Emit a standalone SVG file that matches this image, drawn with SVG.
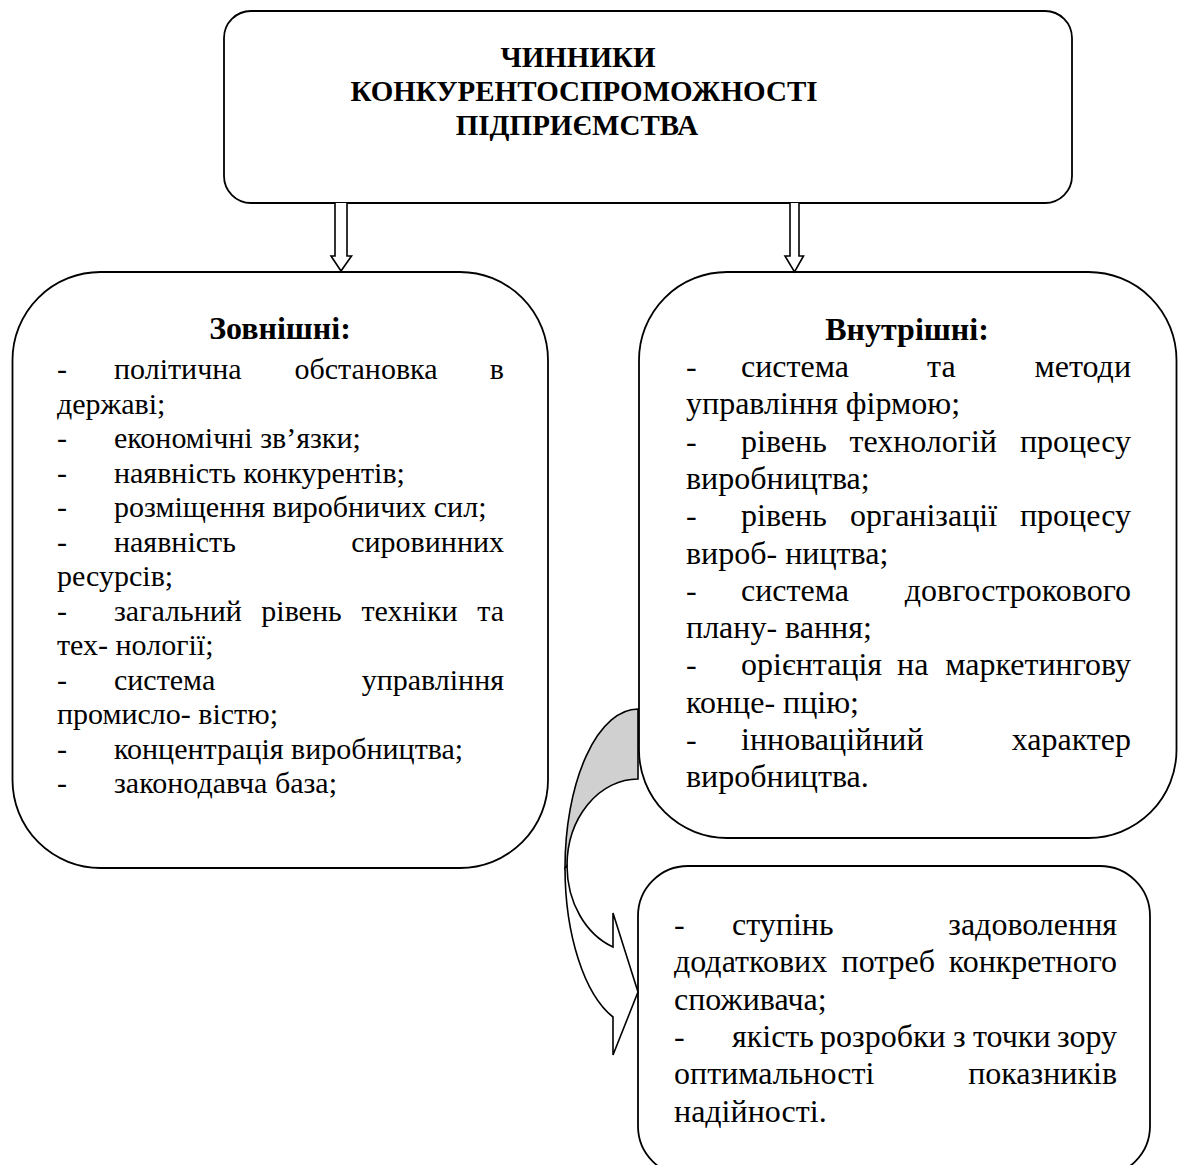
<svg xmlns="http://www.w3.org/2000/svg" width="1178" height="1165" viewBox="0 0 1178 1165">
  <style>
    .box { fill: #ffffff; stroke: #000000; stroke-width: 1.8; }
    .arrow { fill: #ffffff; stroke: #000000; stroke-width: 1.6; stroke-linejoin: miter; }
    .shade { fill: #d0d0d0; stroke: #000000; stroke-width: 1.6; }
    text { font-family: "Liberation Serif", "Times New Roman", serif; fill: #000000; }
    .title { font-size: 29px; font-weight: bold; text-anchor: middle; }
    .head { font-size: 32px; font-weight: bold; text-anchor: middle; }
    .l { font-size: 30px; }
    .r { font-size: 32px; }
    .e { text-anchor: end; }
  </style>
  <rect width="1178" height="1165" fill="#ffffff"/>

  <!-- title node -->
  <g id="node-title">
    <rect class="box" x="224" y="11" width="848" height="192" rx="27" ry="27"/>
    <text class="title" x="578" y="67">ЧИННИКИ</text>
    <text class="title" x="584" y="101">КОНКУРЕНТОСПРОМОЖНОСТІ</text>
    <text class="title" x="577" y="135">ПІДПРИЄМСТВА</text>
  </g>

  <!-- external factors -->
  <g id="node-external">
    <rect class="box" x="12.5" y="272" width="535.5" height="596" rx="88" ry="88"/>
    <text class="head" x="280" y="339">Зовнішні:</text>
    <g class="l">
      <text x="57" y="379">-</text><text x="114" y="379">політична</text><text x="294.5" y="379">обстановка</text><text class="e" x="504" y="379">в</text>
      <text x="57" y="413.5">державі;</text>
      <text x="57" y="448">-</text><text x="114" y="448">економічні зв’язки;</text>
      <text x="57" y="482.5">-</text><text x="114" y="482.5">наявність конкурентів;</text>
      <text x="57" y="517">-</text><text x="114" y="517">розміщення виробничих сил;</text>
      <text x="57" y="551.5">-</text><text x="114" y="551.5">наявність</text><text class="e" x="504" y="551.5">сировинних</text>
      <text x="57" y="586">ресурсів;</text>
      <text x="57" y="620.5">-</text><text x="114" y="620.5">загальний</text><text x="261.3" y="620.5">рівень</text><text x="361.5" y="620.5">техніки</text><text class="e" x="504" y="620.5">та</text>
      <text x="57" y="655">тех- нології;</text>
      <text x="57" y="689.5">-</text><text x="114" y="689.5">система</text><text class="e" x="504" y="689.5">управління</text>
      <text x="57" y="724">промисло- вістю;</text>
      <text x="57" y="758.5">-</text><text x="114" y="758.5">концентрація виробництва;</text>
      <text x="57" y="793">-</text><text x="114" y="793">законодавча база;</text>
    </g>
  </g>

  <!-- internal factors -->
  <g id="node-internal">
    <rect class="box" x="639" y="272" width="537.5" height="566" rx="88" ry="88"/>
    <text class="head" x="907" y="340">Внутрішні:</text>
    <g class="r">
      <text x="686" y="377">-</text><text x="741" y="377">система</text><text x="927" y="377">та</text><text class="e" x="1131" y="377">методи</text>
      <text x="686" y="414.3">управління фірмою;</text>
      <text x="686" y="451.6">-</text><text x="741" y="451.6">рівень</text><text x="849.4" y="451.6">технологій</text><text class="e" x="1131" y="451.6">процесу</text>
      <text x="686" y="488.9">виробництва;</text>
      <text x="686" y="526.2">-</text><text x="741" y="526.2">рівень</text><text x="850" y="526.2">організації</text><text class="e" x="1131" y="526.2">процесу</text>
      <text x="686" y="563.5">вироб- ництва;</text>
      <text x="686" y="600.8">-</text><text x="741" y="600.8">система</text><text class="e" x="1131" y="600.8">довгострокового</text>
      <text x="686" y="638.1">плану- вання;</text>
      <text x="686" y="675.4">-</text><text x="741" y="675.4">орієнтація</text><text x="897" y="675.4">на</text><text class="e" x="1131" y="675.4">маркетингову</text>
      <text x="686" y="712.7">конце- пцію;</text>
      <text x="686" y="750">-</text><text x="741" y="750">інноваційний</text><text class="e" x="1131" y="750">характер</text>
      <text x="686" y="787.3">виробництва.</text>
    </g>
  </g>

  <!-- consumer-related factors -->
  <g id="node-consumer">
    <rect class="box" x="638" y="866" width="512" height="310" rx="50" ry="50"/>
    <g class="r">
      <text x="674" y="935">-</text><text x="732" y="935">ступінь</text><text class="e" x="1117" y="935">задоволення</text>
      <text x="674" y="972.3">додаткових</text><text x="841.5" y="972.3">потреб</text><text class="e" x="1117" y="972.3">конкретного</text>
      <text x="674" y="1009.6">споживача;</text>
      <text x="674" y="1046.9">-</text><text x="732" y="1046.9">якість</text><text x="820" y="1046.9">розробки</text><text x="953" y="1046.9">з</text><text x="973" y="1046.9">точки</text><text class="e" x="1117" y="1046.9">зору</text>
      <text x="674" y="1084.2">оптимальності</text><text class="e" x="1117" y="1084.2">показників</text>
      <text x="674" y="1121.5">надійності.</text>
    </g>
  </g>

  <!-- connectors -->
  <g id="connectors">
    <!-- hollow block arrows from the title down to both groups -->
    <path class="arrow" d="M335,203 L335,256 L331,256 L341,271 L351.5,256 L347,256 L347,203"/>
    <path class="arrow" d="M790,203 L790,256 L785,256 L794.5,272 L803.5,256 L799,256 L799,203"/>
    <!-- curved arrow from the internal group to the consumer group -->
    <path class="shade" d="M638,709 A73,159 0 0 0 565,868 L567,866 A71,87 0 0 1 638,779 Z"/>
    <path class="arrow" d="M567,866 A71,87 0 0 0 613,947 L613,913 L638,992 L613,1055 L613,1017 A73,159 0 0 1 565,868 Z"/>
  </g>
</svg>
